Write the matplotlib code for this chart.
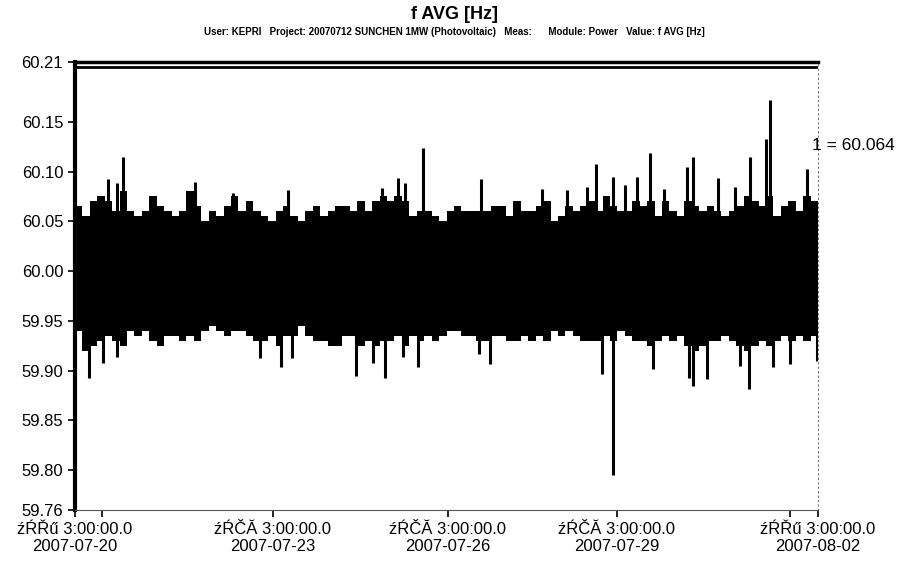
import numpy as np
import matplotlib
matplotlib.use("Agg")
import matplotlib.pyplot as plt

plt.rcParams['font.family'] = ['Liberation Sans', 'DejaVu Sans']

# body envelope of f AVG per time slot (100 slots over the period)
hi = [60.065, 60.055, 60.07, 60.075, 60.07, 60.06, 60.08, 60.06, 60.055, 60.06,
      60.075, 60.065, 60.06, 60.055, 60.06, 60.08, 60.065, 60.05, 60.06, 60.055,
      60.065, 60.075, 60.06, 60.07, 60.06, 60.055, 60.05, 60.06, 60.065, 60.055,
      60.05, 60.06, 60.065, 60.055, 60.06, 60.065, 60.065, 60.06, 60.07, 60.06,
      60.07, 60.075, 60.07, 60.075, 60.07, 60.055, 60.06, 60.06, 60.055, 60.05,
      60.06, 60.065, 60.06, 60.06, 60.06, 60.06, 60.065, 60.065, 60.055, 60.07,
      60.06, 60.06, 60.065, 60.07, 60.05, 60.055, 60.065, 60.06, 60.065, 60.07,
      60.06, 60.075, 60.065, 60.06, 60.06, 60.07, 60.065, 60.07, 60.055, 60.07,
      60.06, 60.055, 60.07, 60.065, 60.06, 60.065, 60.06, 60.055, 60.06, 60.065,
      60.075, 60.07, 60.065, 60.075, 60.055, 60.065, 60.07, 60.06, 60.075, 60.07]
lo = [59.94, 59.92, 59.925, 59.93, 59.935, 59.93, 59.925, 59.94, 59.935, 59.94,
      59.93, 59.925, 59.935, 59.935, 59.93, 59.935, 59.93, 59.94, 59.945, 59.94,
      59.935, 59.94, 59.94, 59.935, 59.93, 59.93, 59.935, 59.925, 59.935, 59.935,
      59.945, 59.935, 59.93, 59.93, 59.925, 59.925, 59.935, 59.935, 59.925, 59.93,
      59.925, 59.93, 59.93, 59.935, 59.925, 59.935, 59.93, 59.935, 59.93, 59.935,
      59.94, 59.94, 59.935, 59.935, 59.93, 59.93, 59.935, 59.935, 59.93, 59.93,
      59.935, 59.93, 59.935, 59.93, 59.94, 59.935, 59.94, 59.935, 59.93, 59.93,
      59.93, 59.935, 59.93, 59.94, 59.935, 59.93, 59.93, 59.925, 59.93, 59.935,
      59.93, 59.935, 59.925, 59.92, 59.925, 59.93, 59.93, 59.935, 59.93, 59.925,
      59.92, 59.925, 59.93, 59.925, 59.93, 59.935, 59.93, 59.935, 59.93, 59.935]

# isolated peaks (slot position, value)
peak_up_x = [6.5, 4.4, 5.6, 16.2, 21.3, 46.8, 43.5, 44.4, 28.7, 41.3, 54.6, 70.1,
             72.4, 75.6, 77.4, 74.0, 62.9, 66.2, 68.9, 93.5, 93.0, 83.2, 82.4, 90.9,
             86.5, 88.8, 98.5, 79.3]
peak_up_y = [60.115, 60.093, 60.089, 60.09, 60.078, 60.124, 60.094, 60.088, 60.081,
             60.083, 60.093, 60.108, 60.095, 60.095, 60.119, 60.086, 60.082, 60.081,
             60.084, 60.172, 60.133, 60.115, 60.105, 60.115, 60.094, 60.084, 60.103,
             60.082]
peak_dn_x = [1.9, 3.8, 5.6, 24.9, 27.7, 29.2, 37.8, 41.7, 40.1, 46.2, 44.2, 72.4,
             70.9, 55.9, 54.4, 77.8, 83.2, 90.7, 85.1, 82.6, 89.5, 93.9, 96.2, 99.8]
peak_dn_y = [59.893, 59.908, 59.914, 59.913, 59.904, 59.913, 59.895, 59.893, 59.908,
             59.904, 59.914, 59.795, 59.897, 59.907, 59.917, 59.902, 59.885, 59.882,
             59.892, 59.893, 59.905, 59.904, 59.907, 59.91]

y_ticks = [60.21, 60.15, 60.10, 60.05, 60.00, 59.95, 59.90, 59.85, 59.80, 59.76]
x_ticks = [0, 3.6, 26.6, 50.2, 72.9, 96.2, 100]
x_labels = ["źŔŘű 3:00:00.0\n2007-07-20", "", "źŔČĂ 3:00:00.0\n2007-07-23",
            "źŔČĂ 3:00:00.0\n2007-07-26", "źŔČĂ 3:00:00.0\n2007-07-29", "",
            "źŔŘű 3:00:00.0\n2007-08-02"]

fig = plt.figure(figsize=(9.13, 5.80), dpi=100)
ax = fig.add_axes([0.0821, 0.1207, 0.8139, 0.7723])

edges = np.arange(len(hi) + 1)
ax.fill_between(edges, np.append(lo, lo[-1]), np.append(hi, hi[-1]),
                step="post", color="black", linewidth=0)
ax.vlines(peak_up_x, 60.0, peak_up_y, color="black", linewidth=2.2)
ax.vlines(peak_dn_x, peak_dn_y, 60.0, color="black", linewidth=2.2)

ax.axhline(60.205, color="black", linewidth=2)

ax.set_xlim(0, 100)
ax.set_ylim(59.76, 60.21)
ax.set_yticks(y_ticks)
ax.set_yticklabels([f"{v:.2f}" for v in y_ticks])
ax.set_xticks(x_ticks)
ax.set_xticklabels(x_labels)
ax.tick_params(axis="both", labelsize=12, length=5, width=1.2, direction="out")

ax.spines["left"].set_linewidth(3)
ax.spines["top"].set_linewidth(2.5)
ax.spines["bottom"].set_color("#555555")
ax.spines["bottom"].set_linestyle((0, (6, 1)))
ax.spines["right"].set_color("#777777")
ax.spines["right"].set_linestyle((0, (1, 3)))

fig.text(0.498, 0.975, "f AVG [Hz]", ha="center", va="center",
         fontsize=13, fontweight="bold")
fig.text(0.498, 0.944,
         "User: KEPRI   Project: 20070712 SUNCHEN 1MW (Photovoltaic)   Meas:      "
         "Module: Power   Value: f AVG [Hz]",
         ha="center", va="center", fontsize=7, fontweight="bold")
fig.text(0.889, 0.75, "1 = 60.064", ha="left", va="center", fontsize=12.5)

fig.savefig("out.png", dpi=100)
